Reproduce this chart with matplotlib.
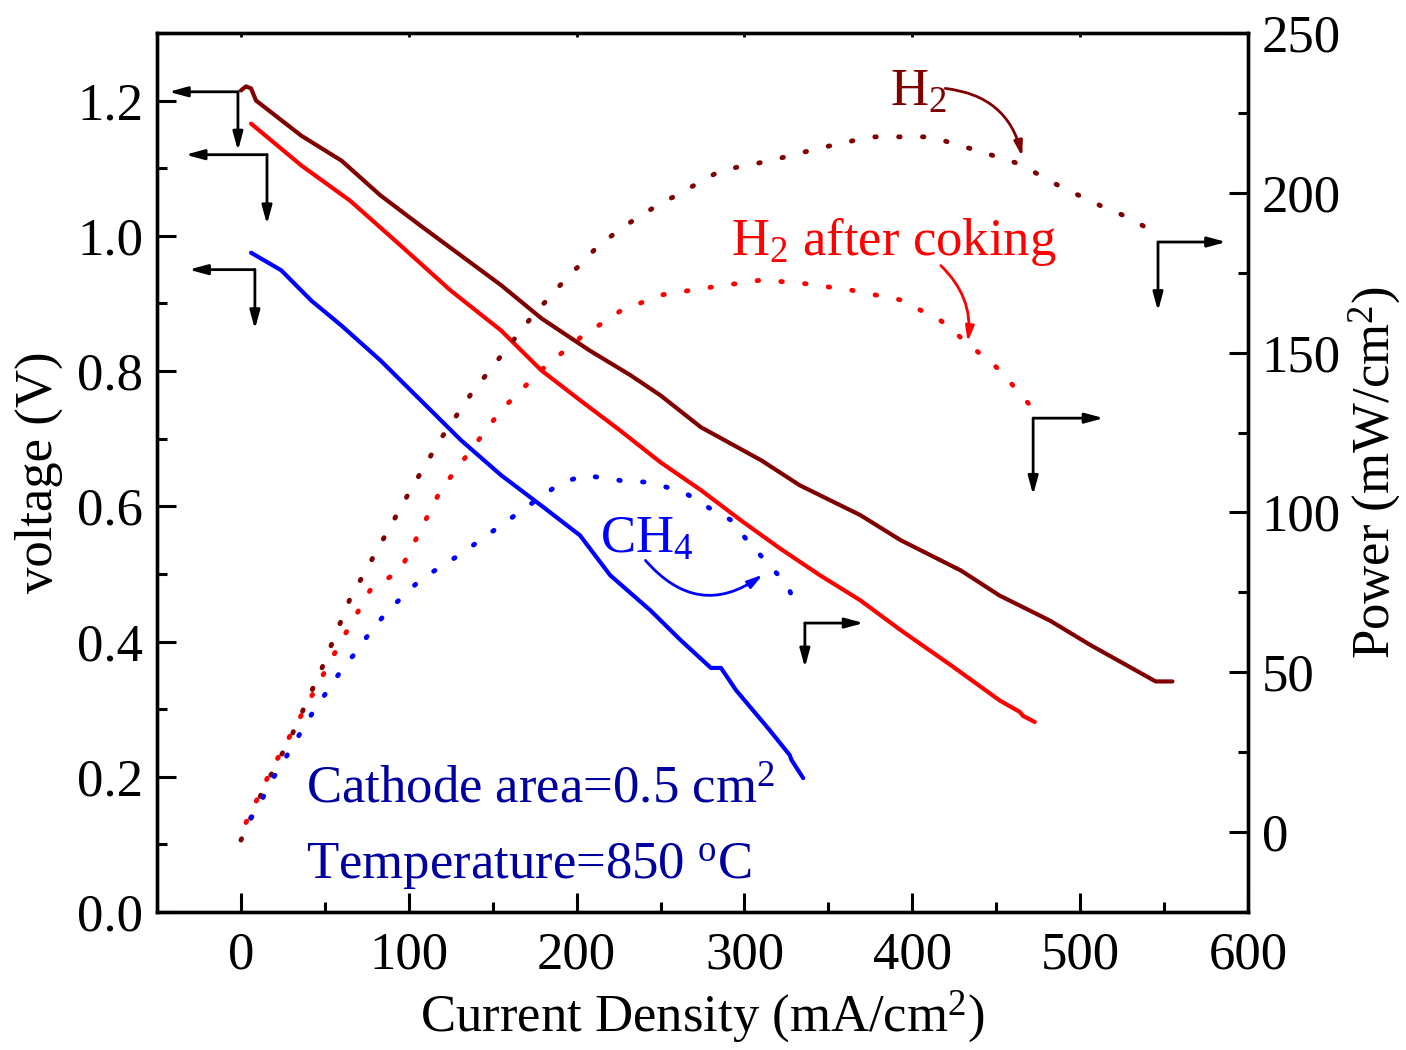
import numpy as np
import matplotlib
matplotlib.use("Agg")
import matplotlib.pyplot as plt
from matplotlib.ticker import MultipleLocator

plt.rcParams["font.family"] = ["Liberation Serif", "DejaVu Serif"]
plt.rcParams["mathtext.fontset"] = "custom"
plt.rcParams["mathtext.rm"] = "Liberation Serif"
plt.rcParams["mathtext.it"] = "Liberation Serif:italic"

DARK = "#800000"
RED = "#ff0000"
BLUE = "#0000ff"
NAVY = "#0000a0"

# voltage curves (V) vs current density (mA/cm2)
h2_j = [0, 3, 6, 9, 36, 60, 83, 107, 131, 155, 179, 208, 232, 250, 274, 310, 333,
        369, 393, 429, 452, 482, 506, 545, 555]
h2_v = [1.215, 1.221, 1.218, 1.200, 1.148, 1.111, 1.060, 1.015, 0.971, 0.927, 0.878,
        0.830, 0.794, 0.764, 0.717, 0.668, 0.631, 0.587, 0.550, 0.505, 0.468, 0.431,
        0.395, 0.341, 0.341]

cok_j = [6, 36, 65, 95, 125, 155, 179, 202, 226, 250, 274, 298, 321, 345, 369, 393,
         423, 452, 464, 466, 473]
cok_v = [1.166, 1.104, 1.052, 0.986, 0.919, 0.860, 0.801, 0.757, 0.712, 0.665, 0.624,
         0.579, 0.538, 0.498, 0.461, 0.417, 0.365, 0.313, 0.296, 0.290, 0.281]

ch4_j = [6, 24, 42, 60, 83, 107, 131, 155, 179, 202, 220, 244, 262, 280, 286, 295,
         315, 327, 328, 335]
ch4_v = [0.975, 0.949, 0.904, 0.867, 0.816, 0.757, 0.698, 0.646, 0.601, 0.557, 0.498,
         0.446, 0.402, 0.361, 0.361, 0.328, 0.269, 0.232, 0.225, 0.198]

# power density curves (mW/cm2)
h2p_j = [0, 13, 30, 48, 65, 83, 101, 119, 137, 155, 173, 190, 214, 238, 262, 286,
         315, 345, 375, 411, 440, 464, 488, 512, 530, 546]
h2p_p = [-2.5, 13, 30, 51, 73, 90, 107, 123, 137, 149, 161, 171, 184, 193, 200, 207,
         210, 214, 217.5, 217.5, 213, 209, 202, 196, 192, 187]

cokp_j = [3, 18, 36, 60, 77, 95, 119, 137, 155, 179, 202, 226, 250, 274, 310, 333,
          363, 393, 417, 435, 452, 470]
cokp_p = [3, 19.4, 36.6, 60, 75.7, 82, 107, 119.5, 132, 144.6, 154.6, 163, 168, 170,
          172.7, 171.8, 169.6, 166.5, 160, 152, 144.6, 133.6]

ch4p_j = [6, 10, 17, 24, 32, 41, 50, 59, 68, 79, 89, 107, 131, 155, 179, 189, 204,
          226, 241, 253, 265, 277, 292, 302, 314, 326, 330]
ch4p_p = [4.4, 7.5, 15, 21, 28, 36, 43, 50, 56, 64, 70, 79, 87, 96, 105, 108.6, 111.7,
          110, 109.5, 108, 106, 102, 97.6, 91, 84, 77, 71]

fig = plt.figure(figsize=(14.06, 10.5), dpi=100)
ax = fig.add_axes([0.1117, 0.1314, 0.7759, 0.8372])
ax2 = ax.twinx()

ax.plot(h2_j, h2_v, color=DARK, lw=3, solid_capstyle="round")
ax.plot(cok_j, cok_v, color=RED, lw=3, solid_capstyle="round")
ax.plot(ch4_j, ch4_v, color=BLUE, lw=3, solid_capstyle="round")

dots = (0, (0.3, 4.6))
for xs, ys, c in [(h2p_j, h2p_p, DARK), (cokp_j, cokp_p, RED), (ch4p_j, ch4p_p, BLUE)]:
    ax2.plot(xs, ys, color=c, lw=3.5, linestyle=dots, dash_capstyle="round")

ax.set_xlim(-50, 600)
ax.set_ylim(0, 1.3)
ax2.set_ylim(-25, 250)

ax.xaxis.set_major_locator(MultipleLocator(100))
ax.xaxis.set_minor_locator(MultipleLocator(50))
ax.yaxis.set_major_locator(MultipleLocator(0.2))
ax.yaxis.set_minor_locator(MultipleLocator(0.1))
ax2.yaxis.set_major_locator(MultipleLocator(50))
ax2.yaxis.set_minor_locator(MultipleLocator(25))
ax.yaxis.set_major_formatter(plt.FuncFormatter(lambda v, p: f"{v:.1f}"))

fs = 38
ax.tick_params(axis="both", which="major", direction="in", length=14, width=2.2,
               labelsize=fs, pad=10)
ax.tick_params(axis="both", which="minor", direction="in", length=7, width=2.2)
ax.tick_params(axis="x", which="major", pad=14)
ax.secondary_xaxis("top").tick_params(which="both", direction="in", length=3, width=2,
                                      labeltop=False)
ax2.tick_params(axis="y", which="major", direction="in", length=14, width=2.2,
                labelsize=fs, pad=10)
ax2.tick_params(axis="y", which="minor", direction="in", length=7, width=2.2)
for sp in ax.spines.values():
    sp.set_linewidth(2.4)
for sp in ax2.spines.values():
    sp.set_linewidth(2.4)

ax.set_xlabel("Current Density (mA/cm$^2$)", fontsize=fs, labelpad=6)
ax.set_ylabel("voltage (V)", fontsize=fs, labelpad=10)
ax2.set_ylabel("Power (mW/cm$^2$)", fontsize=fs, labelpad=4)

# L-shaped axis indicators
ak = dict(arrowstyle="-|>,head_length=1.1,head_width=0.3", color="k", lw=2,
          shrinkA=0, shrinkB=0)


def corner(axis, x0, y0, xh, yv):
    axis.annotate("", xy=(xh, y0), xytext=(x0, y0), arrowprops=ak)
    axis.annotate("", xy=(x0, yv), xytext=(x0, y0), arrowprops=ak)


corner(ax, -1.8, 1.213, -43, 1.126)
corner(ax, 15.5, 1.120, -33, 1.017)
corner(ax, 8.3, 0.950, -31, 0.862)
corner(ax2, 546.4, 184.6, 587, 163)
corner(ax2, 472, 129.5, 514, 105.5)
corner(ax2, 336, 65.4, 371, 51.5)

# curve labels
ax.text(387, 1.193, "H$_2$", color=DARK, fontsize=fs, va="baseline")
ax.annotate("", xy=(465.5, 1.117), xytext=(419.6, 1.218),
            arrowprops=dict(arrowstyle="-|>,head_length=0.9,head_width=0.25", color=DARK,
                            lw=2, shrinkA=0, shrinkB=0, connectionstyle="arc3,rad=-0.35"))
ax.text(292, 0.971, "H$_2$ after coking", color=RED, fontsize=fs, va="baseline")
ax.annotate("", xy=(433, 0.843), xytext=(417, 0.956),
            arrowprops=dict(arrowstyle="-|>,head_length=0.9,head_width=0.25", color=RED,
                            lw=2, shrinkA=0, shrinkB=0, connectionstyle="arc3,rad=-0.25"))
ax.text(214, 0.531, "CH$_4$", color=BLUE, fontsize=fs, va="baseline")
ax.annotate("", xy=(311, 0.499), xytext=(241, 0.520),
            arrowprops=dict(arrowstyle="-|>,head_length=0.9,head_width=0.25", color=BLUE,
                            lw=2, shrinkA=0, shrinkB=0, connectionstyle="arc3,rad=0.45"))

ax.text(38.7, 0.161, "Cathode area=0.5 cm$^2$", color=NAVY, fontsize=fs, va="baseline")
ax.text(38.7, 0.050, "Temperature=850 $^{\\rm o}$C", color=NAVY, fontsize=fs, va="baseline")

fig.savefig("out.png", dpi=100)
